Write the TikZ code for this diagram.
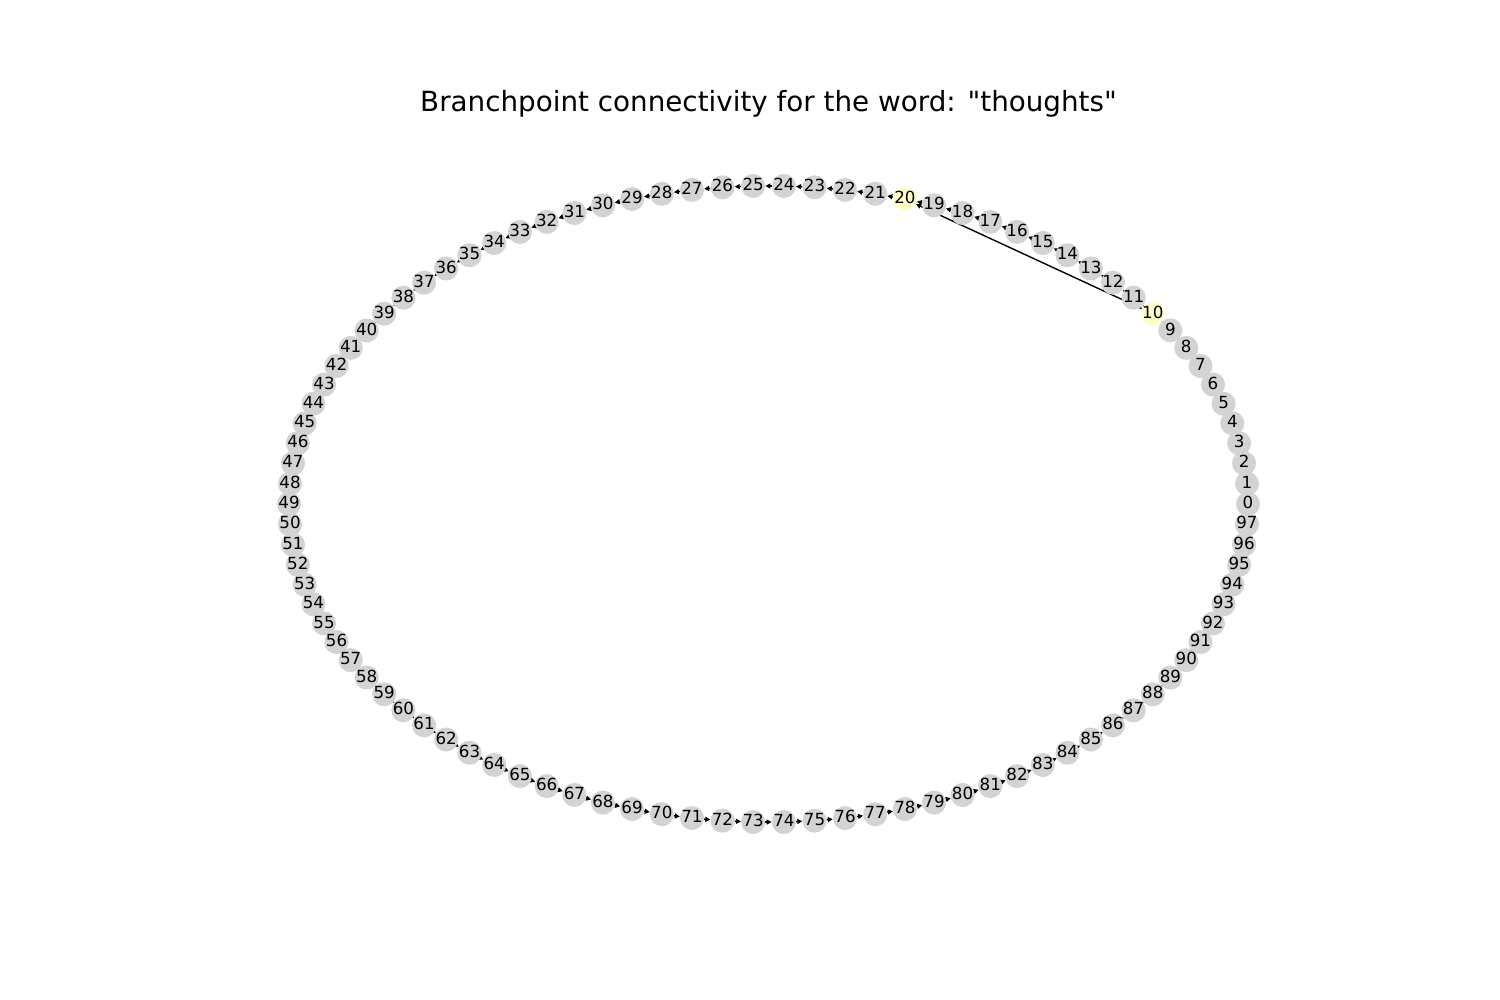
\documentclass[tikz,border=0pt]{standalone}
\usepackage{fontspec}
\setmainfont{DejaVu Sans}[Ligatures=TeXOff]
\usetikzlibrary{arrows.meta}
\definecolor{nodegray}{RGB}{211,211,211}
\definecolor{branchyellow}{RGB}{255,255,204}
\pgfdeclarelayer{background}
\pgfsetlayers{background,main}
\tikzset{
	vertex/.style={
		circle,
		minimum size=24.06pt,
		inner sep=0pt,
		fill=nodegray
	},
	branch/.style={
		vertex,
		fill=branchyellow
	},
	lbl/.style={
		inner sep=0pt,
		text height=12.67pt,
		text depth=3.47pt,
		font=\fontsize{16.67pt}{20pt}\selectfont
	},
	arrow/.style={line width=1.39pt,-{Triangle[length=5pt,width=5pt]}}
}

\begin{document}
\begin{tikzpicture}[x=1pt,y=-1pt]
	\useasboundingbox (0,0) rectangle (1500,1000);
	\node (title) [anchor=base, font=\fontsize{27.78pt}{33pt}\selectfont] at (768.5,112) {Branchpoint connectivity for the word: "thoughts"};
	
	% circular layout, 98 positions
	\foreach \i in {0,...,97}
		\coordinate (p\i) at ({768.5+479.5*cos(3.673469*\i)},{504-318.2*sin(3.673469*\i)});
	
	\foreach \i in {0,...,9,11,12,...,19,21,22,...,97}
		\node (v\i) [vertex] at (p\i) {};
	\foreach \i in {10,20}
		\node (v\i) [branch] at (p\i) {};
	
	\begin{pgfonlayer}{background}
		\fill[white] (0,0) rectangle (1500,1000);
		\foreach \i [evaluate=\i as \j using int(\i+1)] in {0,...,96}
			\draw [arrow] (v\i) -- (v\j);
		\draw [arrow] (v10) -- (v20);
	\end{pgfonlayer}
	
	\foreach \i in {0,...,97}
		\node (l\i) [lbl] at (v\i.center) {\i};
\end{tikzpicture}
\end{document}
